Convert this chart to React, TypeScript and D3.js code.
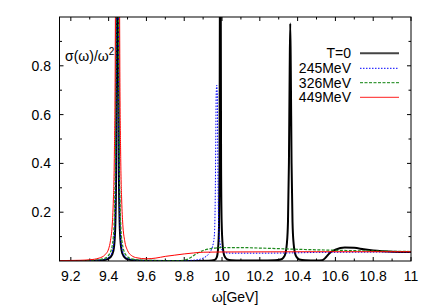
import React from "react";
import * as d3 from "d3";

// ---- data ----
const t0X = [9.14, 9.25, 9.33, 9.38, 9.41, 9.425, 9.432, 9.437, 9.44, 9.442, 9.444, 9.446, 9.447, 9.448, 9.45, 9.452, 9.454, 9.457, 9.462, 9.472, 9.49, 9.52, 9.58, 9.7, 9.85, 9.93, 9.96, 9.972, 9.979, 9.984, 9.987, 9.989, 9.991, 9.993, 9.995, 9.998, 10.004, 10.012, 10.025, 10.05, 10.1, 10.2, 10.28, 10.31, 10.325, 10.335, 10.343, 10.349, 10.354, 10.358, 10.361, 10.364, 10.368, 10.373, 10.379, 10.387, 10.397, 10.41, 10.44, 10.5, 10.53, 10.55, 10.57, 10.6, 10.65, 10.7, 10.75, 10.8, 10.85, 10.9, 11];
const t0Y = [0.0002, 0.0005, 0.0015, 0.0045, 0.015, 0.041, 0.089, 0.2, 0.41, 0.8, 2.2, 5, 6, 5, 2.2, 0.8, 0.41, 0.2, 0.089, 0.032, 0.011, 0.004, 0.0012, 0.0004, 0.0004, 0.001, 0.004, 0.015, 0.05, 0.14, 0.4, 1.2, 5, 1.2, 0.4, 0.16, 0.06, 0.022, 0.008, 0.003, 0.002, 0.002, 0.003, 0.006, 0.014, 0.03, 0.07, 0.16, 0.4, 0.78, 0.973, 0.78, 0.4, 0.16, 0.07, 0.03, 0.014, 0.006, 0.003, 0.002, 0.003, 0.015, 0.033, 0.046, 0.055, 0.054, 0.048, 0.043, 0.04, 0.038, 0.037];

const t245X = [9.14, 9.25, 9.33, 9.38, 9.41, 9.425, 9.432, 9.437, 9.44, 9.442, 9.444, 9.446, 9.448, 9.45, 9.452, 9.455, 9.46, 9.47, 9.49, 9.52, 9.58, 9.7, 9.8, 9.86, 9.9, 9.93, 9.95, 9.96, 9.964, 9.967, 9.969, 9.972, 9.975, 9.977, 9.98, 9.984, 9.99, 10.0, 10.015, 10.05, 10.2, 10.35, 10.5, 10.7, 11];
const t245Y = [0.0003, 0.001, 0.0025, 0.007, 0.022, 0.062, 0.14, 0.3, 0.7, 1.5, 4, 8, 4, 1.5, 0.8, 0.37, 0.15, 0.05, 0.016, 0.006, 0.002, 0.001, 0.002, 0.004, 0.012, 0.03, 0.06, 0.11, 0.25, 0.5, 0.68, 0.72, 0.68, 0.5, 0.25, 0.12, 0.07, 0.045, 0.034, 0.032, 0.032, 0.033, 0.035, 0.036, 0.037];

const t326X = [9.14, 9.25, 9.33, 9.38, 9.41, 9.425, 9.432, 9.437, 9.44, 9.443, 9.446, 9.449, 9.452, 9.455, 9.46, 9.47, 9.49, 9.52, 9.58, 9.7, 9.78, 9.8, 9.83, 9.86, 9.9, 9.95, 10.0, 10.1, 10.2, 10.4, 10.6, 10.8, 11];
const t326Y = [0.0005, 0.0013, 0.004, 0.011, 0.037, 0.1, 0.24, 0.55, 1.2, 3, 8, 3, 1.2, 0.6, 0.25, 0.085, 0.026, 0.009, 0.003, 0.002, 0.002, 0.003, 0.012, 0.028, 0.043, 0.052, 0.055, 0.055, 0.053, 0.048, 0.044, 0.041, 0.039];

const t449X = [9.14, 9.25, 9.3, 9.35, 9.38, 9.4, 9.41, 9.42, 9.425, 9.43, 9.435, 9.44, 9.447, 9.454, 9.459, 9.464, 9.469, 9.475, 9.485, 9.5, 9.52, 9.55, 9.6, 9.65, 9.7, 9.75, 9.8, 9.85, 9.9, 10.0, 10.5, 11];
const t449Y = [0.0015, 0.003, 0.005, 0.012, 0.025, 0.05, 0.085, 0.16, 0.25, 0.42, 0.85, 2.4, 8, 2.4, 0.85, 0.42, 0.25, 0.15, 0.083, 0.043, 0.023, 0.013, 0.009, 0.012, 0.019, 0.024, 0.029, 0.033, 0.036, 0.037, 0.038, 0.038];

const seriesNames = ["T=0", "245MeV", "326MeV", "449MeV"];
const xTicks = [9.2, 9.4, 9.6, 9.8, 10, 10.2, 10.4, 10.6, 10.8, 11];
const xMinor = [9.3, 9.5, 9.7, 9.9, 10.1, 10.3, 10.5, 10.7, 10.9];
const yTicks = [0.2, 0.4, 0.6, 0.8];
const yMinor = [0.1, 0.3, 0.5, 0.7, 0.9];

const W = 436, H = 305;
const L = 59.5, R = 411, T = 17, B = 261;

export default function App() {
  const x = d3.scaleLinear().domain([9.14, 11]).range([L, R]);
  const y = d3.scaleLinear().domain([0, 1]).range([B, T]);
  const line = d3.line<[number, number]>().x(d => x(d[0])).y(d => y(d[1])).curve(d3.curveMonotoneX);
  const zip = (xs: number[], ys: number[]) => xs.map((v, i) => [v, ys[i]] as [number, number]);

  const styles = [
    { stroke: "#000", width: 2, dash: undefined as string | undefined, legendStroke: "#444" },
    { stroke: "#0000ff", width: 1, dash: "1.5,1.5", legendStroke: "#0000ff" },
    { stroke: "#1e8a1e", width: 1.2, dash: "3,1.5", legendStroke: "#3c9a3c" },
    { stroke: "#ff0000", width: 1, dash: undefined, legendStroke: "#ff2020" },
  ];
  const data = [zip(t0X, t0Y), zip(t245X, t245Y), zip(t326X, t326Y), zip(t449X, t449Y)];
  const font = "'Liberation Sans', Arial, sans-serif";
  const legendY = [53.3, 68.3, 82.7, 97.3];

  return (
    <svg width={W} height={H} style={{ position: "absolute", left: 0, top: 0, background: "#fff" }} fontFamily={font}>
      <defs>
        <clipPath id="plotclip">
          <rect x={L} y={T} width={R - L} height={B - T} />
        </clipPath>
      </defs>
      <rect x={0} y={0} width={W} height={H} fill="#fff" />
      {/* ticks */}
      {xTicks.map(v => (
        <g key={"xt" + v}>
          <line x1={x(v)} x2={x(v)} y1={B} y2={B - 4} stroke="#000" strokeWidth={1} />
          <line x1={x(v)} x2={x(v)} y1={T} y2={T + 4} stroke="#000" strokeWidth={1} />
          <text x={x(v)} y={281} fontSize={14} textAnchor="middle">{String(v)}</text>
        </g>
      ))}
      {xMinor.map(v => (
        <g key={"xm" + v}>
          <line x1={x(v)} x2={x(v)} y1={B} y2={B - 2.5} stroke="#000" strokeWidth={1} />
          <line x1={x(v)} x2={x(v)} y1={T} y2={T + 2.5} stroke="#000" strokeWidth={1} />
        </g>
      ))}
      {yTicks.map(v => (
        <g key={"yt" + v}>
          <line x1={L} x2={L + 4} y1={y(v)} y2={y(v)} stroke="#000" strokeWidth={1} />
          <line x1={R} x2={R - 4} y1={y(v)} y2={y(v)} stroke="#000" strokeWidth={1} />
          <text x={51} y={y(v) + 5} fontSize={14} textAnchor="end">{String(v)}</text>
        </g>
      ))}
      {yMinor.map(v => (
        <g key={"ym" + v}>
          <line x1={L} x2={L + 2.5} y1={y(v)} y2={y(v)} stroke="#000" strokeWidth={1} />
          <line x1={R} x2={R - 2.5} y1={y(v)} y2={y(v)} stroke="#000" strokeWidth={1} />
        </g>
      ))}
      {/* curves */}
      <g clipPath="url(#plotclip)">
        {data.map((d, i) => (
          <path key={"s" + i} d={line(d) || ""} fill="none" stroke={styles[i].stroke}
            strokeWidth={styles[i].width} strokeDasharray={styles[i].dash} strokeLinejoin="round" />
        ))}
      </g>
      {/* frame */}
      <rect x={L} y={T} width={R - L} height={B - T} fill="none" stroke="#000" strokeWidth={1} />
      {/* y label */}
      <text x={65} y={61} fontSize={14}>σ(ω)/ω<tspan dy={-6} fontSize={10}>2</tspan></text>
      {/* x label */}
      <text x={235} y={302} fontSize={14} textAnchor="middle">ω[GeV]</text>
      {/* legend */}
      {seriesNames.map((n, i) => (
        <g key={"lg" + i}>
          <text x={351} y={legendY[i] + 5} fontSize={14} textAnchor="end">{n}</text>
          <line x1={360} x2={399} y1={legendY[i]} y2={legendY[i]} stroke={styles[i].legendStroke}
            strokeWidth={styles[i].width} strokeDasharray={styles[i].dash} />
        </g>
      ))}
    </svg>
  );
}
